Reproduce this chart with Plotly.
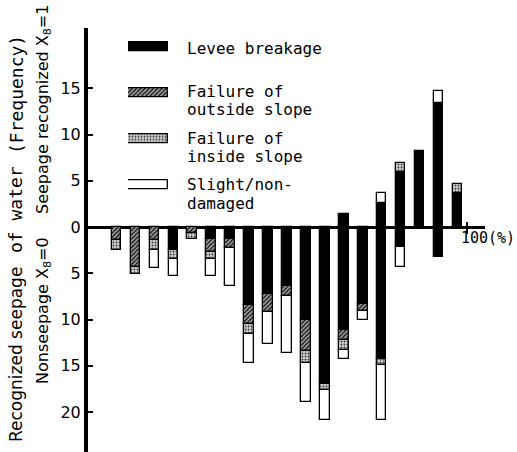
import plotly.graph_objects as go

# ---------------- data ----------------
# x position of each bin (%)
bin_pct = [7.5, 12.5, 17.5, 22.5, 27.5, 32.5, 37.5, 42.5, 47.5, 52.5,
           57.5, 62.5, 67.5, 72.5, 77.5, 82.5, 87.5, 92.5, 97.5]

# Seepage recognized (X8 = 1) -> plotted upward
seep_levee   = [0, 0, 0, 0, 0, 0, 0, 0, 0, 0, 0, 0, 1.4, 0, 2.6, 5.9, 8.2, 13.4, 3.7]
seep_outside = [0, 0, 0, 0, 0, 0, 0, 0, 0, 0, 0, 0, 0, 0, 0, 0, 0, 0, 0]
seep_inside  = [0, 0, 0, 0, 0, 0, 0, 0, 0, 0, 0, 0, 0, 0, 0, 1.0, 0, 0, 1.0]
seep_slight  = [0, 0, 0, 0, 0, 0, 0, 0, 0, 0, 0, 0, 0, 0, 1.1, 0, 0, 1.3, 0]

# Nonseepage (X8 = 0) -> plotted downward
non_levee   = [0, 0, 0, 2.5, 0, 1.3, 1.3, 8.4, 7.2, 6.4, 10.0, 17.0, 11.1, 8.3, 14.3, 2.2, 0, 3.2, 0]
non_outside = [1.4, 4.3, 1.4, 0, 0.7, 1.35, 1.0, 2.1, 2.0, 1.1, 3.4, 0, 1.1, 0.8, 0, 0, 0, 0, 0]
non_inside  = [1.1, 0.8, 1.1, 1.0, 0.65, 0.8, 0, 1.1, 0, 0, 1.3, 0.6, 1.1, 0, 0.6, 0, 0, 0, 0]
non_slight  = [0, 0, 1.9, 1.85, 0, 1.85, 4.1, 3.1, 3.4, 6.1, 4.2, 3.3, 1.0, 0.9, 6.0, 2.1, 0, 0, 0]

category_names = ["Levee breakage", "Failure of outside slope",
                  "Failure of inside slope", "Slight/non-damaged"]
legend_lines = [["Levee breakage"], ["Failure of", "outside slope"],
                ["Failure of", "inside slope"], ["Slight/non-", "damaged"]]

y_tickvals = [-20, -15, -10, -5, 0, 5, 10, 15]
y_ticktext = ["20", "15", "10", "5", "0", "5", "10", "15"]

# ---------------- layout geometry ----------------
W, H = 517, 452
L, R, T, B = 88, 485, 28, 452
Y0PX = 227          # pixel row of zero
PX_PER_UNIT = 9.25
PX_PER_PCT = 3.79

def px_x(px):
    return (px - L) / (R - L)

def px_y(py):
    return (B - py) / (B - T)

ymax = (Y0PX - T) / PX_PER_UNIT
ymin = -(B - Y0PX) / PX_PER_UNIT
xmax = (R - L) / PX_PER_PCT

SANS = "DejaVu Sans"
MONO = "DejaVu Sans Mono"

styles = {
    "levee": dict(color="black", line=dict(color="black", width=1.3)),
    "outside": dict(color="#8c8c8c",
                    pattern=dict(shape="/", fgcolor="#111111", bgcolor="#a6a6a6",
                                 size=3, solidity=0.45),
                    line=dict(color="black", width=1.3)),
    "inside": dict(color="#b5b5b5",
                   pattern=dict(shape=".", fgcolor="#3a3a3a", bgcolor="#cfcfcf",
                                size=3, solidity=0.3),
                   line=dict(color="black", width=1.3)),
    "slight": dict(color="white", line=dict(color="black", width=1.3)),
}

def nz(vals, sign=1):
    return [sign * v if v else None for v in vals]

fig = go.Figure()
BAR_W = 2.5
series = [
    ("levee", non_levee, -1, category_names[0]),
    ("outside", non_outside, -1, category_names[1]),
    ("inside", non_inside, -1, category_names[2]),
    ("slight", non_slight, -1, category_names[3]),
    ("levee", seep_levee, 1, category_names[0]),
    ("outside", seep_outside, 1, category_names[1]),
    ("inside", seep_inside, 1, category_names[2]),
    ("slight", seep_slight, 1, category_names[3]),
]
for key, vals, sign, name in series:
    fig.add_trace(go.Bar(x=bin_pct, y=nz(vals, sign), width=BAR_W, name=name,
                         marker=styles[key], showlegend=False))

# legend key swatches on their own small axes
keys = ["levee", "outside", "inside", "slight"]
for i, (key, name) in enumerate(zip(keys, category_names)):
    fig.add_trace(go.Bar(x=[1], y=[3 - i], base=0, orientation="h", width=0.2,
                         marker=styles[key], name=name, showlegend=False,
                         xaxis="x2", yaxis="y2", hoverinfo="skip"))

# legend text
line_rows = [[48], [92, 109.5], [138, 156], [185, 203]]
ann = []
for lines, rows in zip(legend_lines, line_rows):
    for txt, row in zip(lines, rows):
        ann.append(dict(text=txt, x=px_x(185), y=px_y(row), xref="paper", yref="paper",
                        xanchor="left", yanchor="middle", showarrow=False,
                        font=dict(family=MONO, size=16, color="black")))

# y-axis titles (rotated)
titles = [
    ("Recognized seepage", SANS, 17, 16, 355),
    ("of water", MONO, 18, 16, 210),
    ("(Frequency)", MONO, 18, 16, 95),
    ("Nonseepage X<sub>8</sub>=0", SANS, 16, 43, 311),
    ("Seepage recognized X<sub>8</sub>=1", SANS, 16, 43, 110),
]
for txt, fam, size, cx, cy in titles:
    ann.append(dict(text=txt, x=px_x(cx), y=px_y(cy), xref="paper", yref="paper",
                    xanchor="center", yanchor="middle", showarrow=False, textangle=-90,
                    font=dict(family=fam, size=size, color="black")))

zero_pos = (0 - ymin) / (ymax - ymin)

fig.update_layout(
    width=W, height=H,
    margin=dict(l=L, r=W - R, t=T, b=H - B, pad=0),
    paper_bgcolor="white", plot_bgcolor="white",
    barmode="relative", bargap=0,
    template="none",
    showlegend=False,
    annotations=ann,
    xaxis=dict(range=[0, xmax], anchor="free", position=zero_pos + 6 / (B - T),
               showline=False, showgrid=False, zeroline=False,
               tickvals=[100], ticktext=["100(%)"], ticks="outside", ticklen=12,
               tickwidth=1.5, tickcolor="black", ticklabelshift=21,
               ticklabelstandoff=-9,
               tickfont=dict(family=MONO, size=15, color="black"), automargin=False),
    yaxis=dict(range=[ymin, ymax], showline=True, linewidth=4, linecolor="black",
               showgrid=False, zeroline=True, zerolinewidth=3, zerolinecolor="black",
               tickvals=y_tickvals, ticktext=y_ticktext, ticks="inside", ticklen=5,
               tickwidth=1.5, tickcolor="black",
               tickfont=dict(family=SANS, size=16, color="black"), automargin=False),
    xaxis2=dict(domain=[px_x(128), px_x(168)], range=[0, 1], anchor="y2",
                visible=False, fixedrange=True),
    yaxis2=dict(domain=[px_y(47 + 3.3 * 46), px_y(47 - 0.3 * 46)], range=[-0.3, 3.3],
                anchor="x2", visible=False, fixedrange=True),
)

fig.write_html("out.html", config={"displayModeBar": False},
               post_script="document.body.style.margin='0px';document.body.style.overflow='hidden';")
